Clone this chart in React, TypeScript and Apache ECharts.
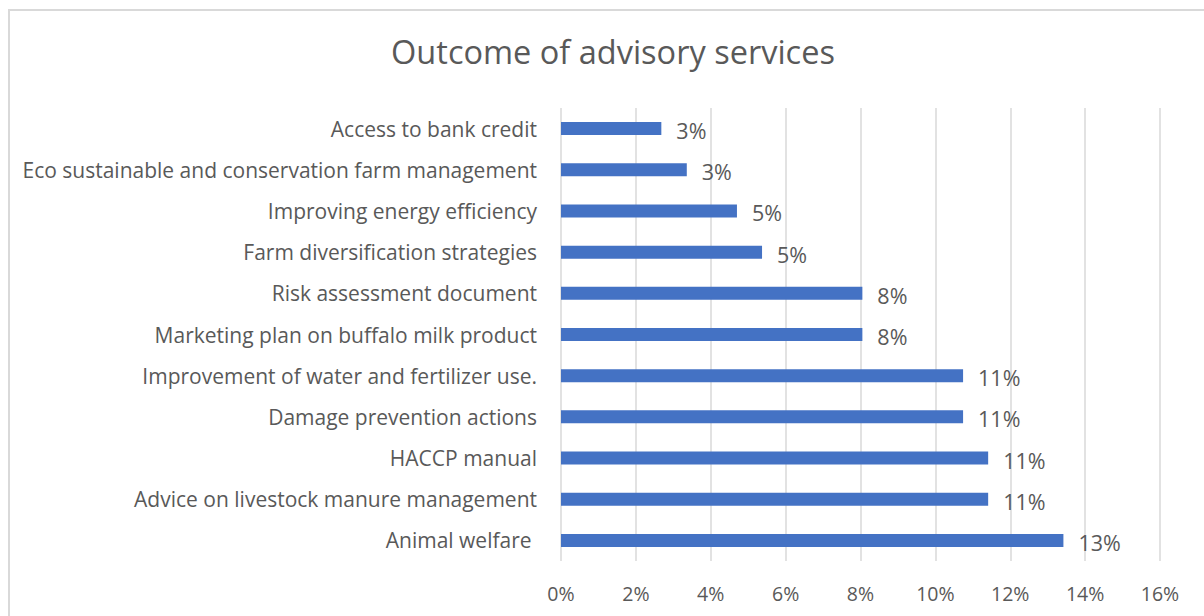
import React, { useEffect, useRef } from "react";
import * as echarts from "echarts";

const titleText = "Outcome of advisory services";
const categories = [
  "Access to bank credit",
  "Eco sustainable and conservation farm management",
  "Improving energy efficiency",
  "Farm diversification strategies",
  "Risk assessment document",
  "Marketing plan on buffalo milk product",
  "Improvement of water and fertilizer use.",
  "Damage prevention actions",
  "HACCP manual",
  "Advice on livestock manure management",
  "Animal welfare ",
];
const values = [2.68, 3.36, 4.7, 5.37, 8.05, 8.05, 10.74, 10.74, 11.41, 11.41, 13.42];
const axisMin = 0;
const axisMax = 16;
const axisStep = 2;

const FONT = "'Open Sans', sans-serif";
const TEXT = "#595959";

export default function App() {
  const ref = useRef<HTMLDivElement>(null);
  useEffect(() => {
    if (!ref.current) return;
    const chart = echarts.init(ref.current, undefined, { renderer: "svg" });
    chart.setOption({
      animation: false,
      backgroundColor: "#ffffff",
      textStyle: { fontFamily: FONT },
      title: {
        text: titleText,
        left: 608,
        top: 30,
        textAlign: "center",
        textStyle: { fontFamily: FONT, fontSize: 32.5, fontWeight: "normal", color: TEXT },
      },
      graphic: [
        {
          type: "rect",
          shape: { x: 9, y: 10, width: 1300, height: 700 },
          style: { fill: "none", stroke: "#d9d9d9", lineWidth: 2 },
          silent: true,
        },
      ],
      grid: { left: 561, right: 44, top: 108, height: 453, containLabel: false },
      xAxis: {
        type: "value",
        min: axisMin,
        max: axisMax,
        interval: axisStep,
        axisLine: { show: false },
        axisTick: { show: false },
        splitLine: { show: true, lineStyle: { color: "#d9d9d9", width: 1.5 } },
        axisLabel: {
          formatter: (v: number) => `${v}%`,
          color: TEXT,
          fontFamily: FONT,
          fontSize: 19.5,
          margin: 22,
        },
      },
      yAxis: {
        type: "category",
        data: categories,
        inverse: true,
        axisLine: { show: false },
        axisTick: { show: false },
        axisLabel: { color: TEXT, fontFamily: FONT, fontSize: 21, margin: 24 },
      },
      series: [
        {
          type: "bar",
          data: values,
          barWidth: 13,
          itemStyle: { color: "#4472C4" },
          label: {
            show: true,
            position: "right",
            distance: 15,
            offset: [0, 2],
            formatter: (p: any) => `${Math.round(p.value)}%`,
            color: TEXT,
            fontFamily: FONT,
            fontSize: 21.5,
          },
        },
      ],
    });
    return () => chart.dispose();
  }, []);
  return (
    <div
      ref={ref}
      style={{ position: "fixed", left: 0, top: 0, width: 1204, height: 616 }}
    />
  );
}
